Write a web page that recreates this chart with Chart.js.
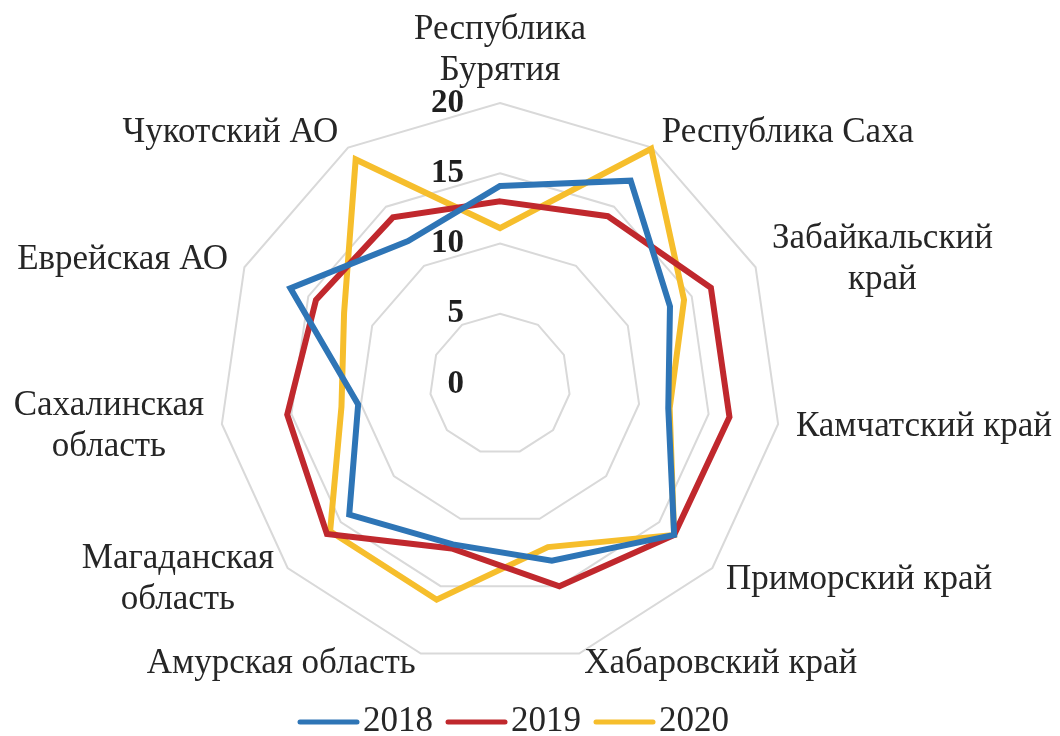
<!DOCTYPE html>
<html>
<head>
<meta charset="utf-8">
<script src="https://cdn.jsdelivr.net/npm/chart.js@4.4.1/dist/chart.umd.min.js"></script>
<style>
  html, body { margin: 0; padding: 0; background: #fff; }
  #wrap { width: 1060px; height: 736px; position: relative; }
</style>
</head>
<body>
<div id="wrap"><canvas id="radarChart"></canvas></div>
<script>
// regions (multi-line labels as arrays)
var regions = [
    ['Республика', 'Бурятия'],
    'Республика Саха',
    ['Забайкальский', 'край'],
    'Камчатский край',
    'Приморский край',
    'Хабаровский край',
    'Амурская область',
    ['Магаданская', 'область'],
    ['Сахалинская', 'область'],
    'Еврейская АО',
    'Чукотский АО'
];
var years = ['2018', '2019', '2020'];
var values2018 = [14.1, 17.2, 13.3, 12.1, 16.4, 13.1, 11.9, 14.2, 10.2, 16.4, 12.1];
var values2019 = [13.0, 14.2, 16.5, 16.5, 16.4, 15.0, 12.2, 16.3, 15.3, 14.4, 14.1];
var values2020 = [11.1, 19.9, 14.4, 12.2, 16.4, 12.1, 16.0, 16.0, 11.4, 12.2, 19.0];
var tickValues = [0, 5, 10, 15, 20];

var colors = ['#2E75B6', '#C0282D', '#F6BE2C'];
var serif = '"Liberation Serif", "Times New Roman", serif';

// draws category labels, axis numbers and the legend the way Excel places them
var excelTextPlugin = {
    id: 'excelText',
    afterDraw: function(chart) {
        var scale = chart.scales.r;
        var ctx = chart.ctx;
        ctx.save();

        // axis numbers, left of the vertical axis
        ctx.font = 'bold 33px ' + serif;
        ctx.fillStyle = '#1f1f1f';
        ctx.textAlign = 'right';
        ctx.textBaseline = 'middle';
        tickValues.forEach(function(v) {
            var d = scale.getDistanceFromCenterForValue(v);
            ctx.fillText(String(v), scale.xCenter - 36, scale.yCenter - d);
        });

        // category labels
        var lineHeight = 41;
        ctx.font = '35px ' + serif;
        ctx.fillStyle = '#262626';
        ctx.textAlign = 'center';
        var outer = scale.drawingArea + 18;
        regions.forEach(function(label, i) {
            var lines = Array.isArray(label) ? label : [label];
            var pos = scale.getPointPosition(i, outer);
            var a = scale.getIndexAngle(i);
            var s = Math.sin(a);
            var widths = lines.map(function(l) { return ctx.measureText(l).width; });
            var blockW = Math.max.apply(null, widths);
            var blockH = lines.length * lineHeight;
            var left;
            if (Math.abs(s) < 0.05) {
                left = pos.x - blockW / 2;
            } else if (s > 0) {
                left = pos.x;
            } else {
                left = pos.x - blockW;
            }
            var top = (i === 0) ? pos.y - blockH + 6 : pos.y - blockH / 2;
            if (Math.cos(a) < -0.9) top -= 7;   // bottom labels sit a bit higher
            lines.forEach(function(l, k) {
                ctx.fillText(l, left + blockW / 2, top + lineHeight * (k + 0.5));
            });
        });

        // legend
        ctx.font = '35px ' + serif;
        ctx.textAlign = 'left';
        var lineLen = 63, gap = 3, itemGap = 12;
        var items = chart.data.datasets.map(function(ds) {
            return { text: ds.label, color: ds.borderColor, w: ctx.measureText(ds.label).width };
        });
        var total = itemGap * (items.length - 1);
        items.forEach(function(it) { total += lineLen + gap + it.w; });
        var x = scale.xCenter + 13 - total / 2;
        var y = 722;
        items.forEach(function(it) {
            ctx.strokeStyle = it.color;
            ctx.lineWidth = 5;
            ctx.lineCap = 'round';
            ctx.beginPath();
            ctx.moveTo(x + 3, y);
            ctx.lineTo(x + lineLen - 3, y);
            ctx.stroke();
            ctx.fillStyle = '#262626';
            ctx.fillText(it.text, x + lineLen + gap, y);
            x += lineLen + gap + it.w + itemGap;
        });

        ctx.restore();
    }
};

function makeDataset(label, data, color) {
    return {
        label: label,
        data: data,
        borderColor: color,
        backgroundColor: 'rgba(0,0,0,0)',
        borderWidth: 6,
        borderJoinStyle: 'miter',
        pointRadius: 0,
        pointHoverRadius: 0,
        fill: false,
        tension: 0
    };
}

var ctx = document.getElementById('radarChart').getContext('2d');
new Chart(ctx, {
    type: 'radar',
    data: {
        labels: regions,
        datasets: [
            makeDataset(years[0], values2018, colors[0]),
            makeDataset(years[1], values2019, colors[1]),
            makeDataset(years[2], values2020, colors[2])
        ]
    },
    options: {
        responsive: true,
        maintainAspectRatio: false,
        animation: false,
        events: [],
        layout: {
            padding: { top: 103, bottom: 71, left: 219, right: 279 }
        },
        scales: {
            r: {
                min: 0,
                max: 20,
                ticks: { display: false, stepSize: 5 },
                grid: { color: '#d9d9d9', lineWidth: 2 },
                angleLines: { display: false },
                pointLabels: { display: false }
            }
        },
        plugins: {
            legend: { display: false },
            tooltip: { enabled: false }
        }
    },
    plugins: [excelTextPlugin]
});
</script>
</body>
</html>
